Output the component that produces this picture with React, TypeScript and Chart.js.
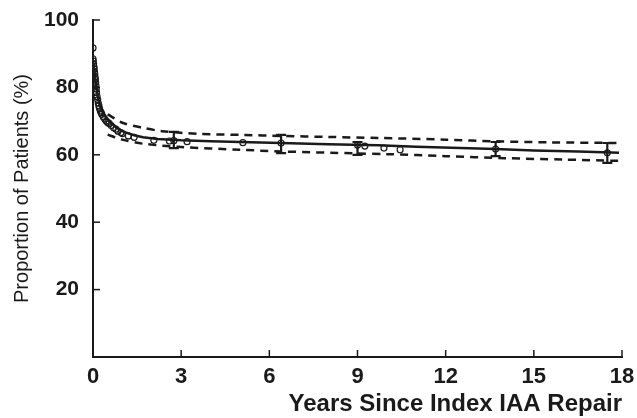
import React, { useEffect, useRef } from "react";
import { Chart, registerables } from "chart.js";

Chart.register(...registerables);

const xTicks = [0, 3, 6, 9, 12, 15, 18];
const yTicks = [20, 40, 60, 80, 100];

const survYears = [0, 0.05, 0.1, 0.15, 0.2, 0.3, 0.45, 0.6, 0.8, 1.05, 1.4, 1.7, 2.2, 3, 4, 5, 6.4, 8, 9.7, 11, 12.5, 13.7, 15, 16.5, 17.9];
const survValues = [88, 85, 81, 78, 75.5, 73, 71, 69.5, 68, 66.8, 65.8, 65.2, 64.7, 64.3, 64, 63.8, 63.5, 63.1, 62.8, 62.4, 62, 61.7, 61.3, 61, 60.6];

const upperYears = [0.5, 1, 1.7, 2.35, 3.6, 5.1, 6.4, 8, 9.7, 12, 13.7, 15.5, 17.9];
const upperValues = [72, 69.5, 68, 67, 66.2, 65.9, 65.6, 65.3, 65, 64.5, 64, 63.7, 63.5];

const lowerYears = [0.5, 1, 1.7, 3, 5, 6.4, 9, 10, 12, 14, 16, 17.9];
const lowerValues = [66, 64.5, 63.3, 62.3, 61.5, 61, 60.4, 60.2, 59.6, 59, 58.6, 58.2];

const markerYears = [0, 0, 0.01, 0.02, 0.03, 0.04, 0.05, 0.06, 0.07, 0.08, 0.09, 0.1, 0.11, 0.12, 0.14, 0.16, 0.18, 0.2, 0.22, 0.25, 0.28, 0.3, 0.35, 0.4, 0.45, 0.5, 0.55, 0.62, 0.7, 0.78, 0.85, 0.95, 1.0, 1.2, 1.4, 2.07, 2.6, 3.2, 5.1, 9.25, 9.9, 10.45];
const markerValues = [91.7, 88.5, 87.8, 87, 86.2, 85.5, 84.7, 84, 83, 82.5, 81.5, 80.5, 79.5, 78.5, 77.3, 76.3, 75.3, 74.5, 73.8, 73, 72.5, 72, 71.2, 70.6, 70, 69.6, 69.3, 68.7, 68, 67.6, 67, 66.6, 66.3, 65.6, 65.2, 64.3, 64.1, 63.9, 63.6, 62.6, 62, 61.5];

const ebYears = [2.75, 6.4, 9.0, 13.7, 17.5];
const ebLow = [62, 60.5, 60.0, 59.6, 57.6];
const ebHigh = [66.8, 65.9, 63.8, 63.8, 63.5];
const ebMid = [64.2, 63.5, 62.9, 61.7, 60.6];

const INK = "#1a1a1a";
const FONT = "Liberation Sans, Arial, sans-serif";

const toPts = (xs: number[], ys: number[]) => xs.map((x, i) => ({ x, y: ys[i] }));

const inwardTicks = {
  id: "inwardTicks",
  afterDraw(chart: any) {
    const { ctx, chartArea, scales } = chart;
    ctx.save();
    ctx.strokeStyle = INK;
    ctx.lineWidth = 1.5;
    yTicks.forEach((v) => {
      const y = scales.y.getPixelForValue(v);
      ctx.beginPath();
      ctx.moveTo(chartArea.left, y);
      ctx.lineTo(chartArea.left + 7, y);
      ctx.stroke();
    });
    xTicks.forEach((v) => {
      if (v === 0) return;
      const x = scales.x.getPixelForValue(v);
      ctx.beginPath();
      ctx.moveTo(x, chartArea.bottom);
      ctx.lineTo(x, chartArea.bottom - 7);
      ctx.stroke();
    });
    ctx.restore();
  },
};

const errorBars = {
  id: "errorBars",
  afterDatasetsDraw(chart: any) {
    const { ctx, scales } = chart;
    ctx.save();
    ctx.strokeStyle = INK;
    ebYears.forEach((yr, i) => {
      const x = scales.x.getPixelForValue(yr);
      const yl = scales.y.getPixelForValue(ebLow[i]);
      const yh = scales.y.getPixelForValue(ebHigh[i]);
      const ym = scales.y.getPixelForValue(ebMid[i]);
      ctx.lineWidth = 2.2;
      ctx.beginPath();
      ctx.moveTo(x, yh);
      ctx.lineTo(x, yl);
      ctx.moveTo(x - 5, yh);
      ctx.lineTo(x + 5, yh);
      ctx.moveTo(x - 5, yl);
      ctx.lineTo(x + 5, yl);
      ctx.stroke();
      ctx.lineWidth = 1.2;
      ctx.beginPath();
      ctx.arc(x, ym, 3, 0, Math.PI * 2);
      ctx.stroke();
    });
    ctx.restore();
  },
};

export default function App() {
  const ref = useRef<HTMLCanvasElement | null>(null);
  useEffect(() => {
    if (!ref.current) return;
    const chart = new Chart(ref.current, {
      type: "scatter",
      data: {
        datasets: [
          {
            label: "Survival",
            data: toPts(survYears, survValues),
            showLine: true,
            borderColor: INK,
            borderWidth: 2.5,
            pointRadius: 0,
            tension: 0,
          },
          {
            label: "Upper",
            data: toPts(upperYears, upperValues),
            showLine: true,
            borderColor: INK,
            borderWidth: 2.5,
            borderDash: [8, 6],
            pointRadius: 0,
            tension: 0.3,
          },
          {
            label: "Lower",
            data: toPts(lowerYears, lowerValues),
            showLine: true,
            borderColor: INK,
            borderWidth: 2.5,
            borderDash: [8, 6],
            pointRadius: 0,
            tension: 0.3,
          },
          {
            label: "Observed",
            data: toPts(markerYears, markerValues),
            showLine: false,
            pointRadius: 3,
            pointBorderWidth: 1.2,
            pointBorderColor: INK,
            pointBackgroundColor: "rgba(255,255,255,0)",
          },
        ],
      },
      options: {
        animation: false,
        responsive: false,
        maintainAspectRatio: false,
        events: [],
        layout: { padding: { left: 0, right: 15, top: 20, bottom: 0 } },
        plugins: { legend: { display: false }, tooltip: { enabled: false } },
        scales: {
          x: {
            type: "linear",
            min: 0,
            max: 18,
            afterBuildTicks: (s: any) => {
              s.ticks = xTicks.map((v) => ({ value: v }));
            },
            afterFit: (s: any) => {
              s.height = 61;
              s.paddingLeft = 0;
              s.paddingRight = 0;
            },
            grid: { display: true, drawOnChartArea: false, drawTicks: false },
            border: { display: true, color: INK, width: 2 },
            ticks: {
              padding: 7,
              color: INK,
              font: { family: FONT, size: 22, weight: "bold" },
            },
            title: {
              display: true,
              text: "Years Since Index IAA Repair",
              align: "end",
              color: INK,
              padding: { top: 0, bottom: 4 },
              font: { family: FONT, size: 24, weight: "bold", lineHeight: 0.8 },
            },
          },
          y: {
            type: "linear",
            min: 0,
            max: 100,
            afterBuildTicks: (s: any) => {
              s.ticks = yTicks.map((v) => ({ value: v }));
            },
            afterFit: (s: any) => {
              s.width = 93;
              s.paddingTop = 0;
              s.paddingBottom = 0;
            },
            grid: { display: true, drawOnChartArea: false, drawTicks: false },
            border: { display: true, color: INK, width: 2 },
            ticks: {
              padding: 14,
              color: INK,
              font: { family: FONT, size: 21, weight: "bold" },
            },
            title: {
              display: true,
              text: "Proportion of Patients (%)",
              color: INK,
              padding: { top: 10, bottom: 0 },
              font: { family: FONT, size: 20 },
            },
          },
        },
      },
      plugins: [inwardTicks, errorBars],
    } as any);
    return () => chart.destroy();
  }, []);
  return (
    <div style={{ position: "fixed", left: 0, top: 0, width: 637, height: 418, background: "#fff" }}>
      <canvas ref={ref} width={637} height={418} style={{ display: "block" }} />
    </div>
  );
}
